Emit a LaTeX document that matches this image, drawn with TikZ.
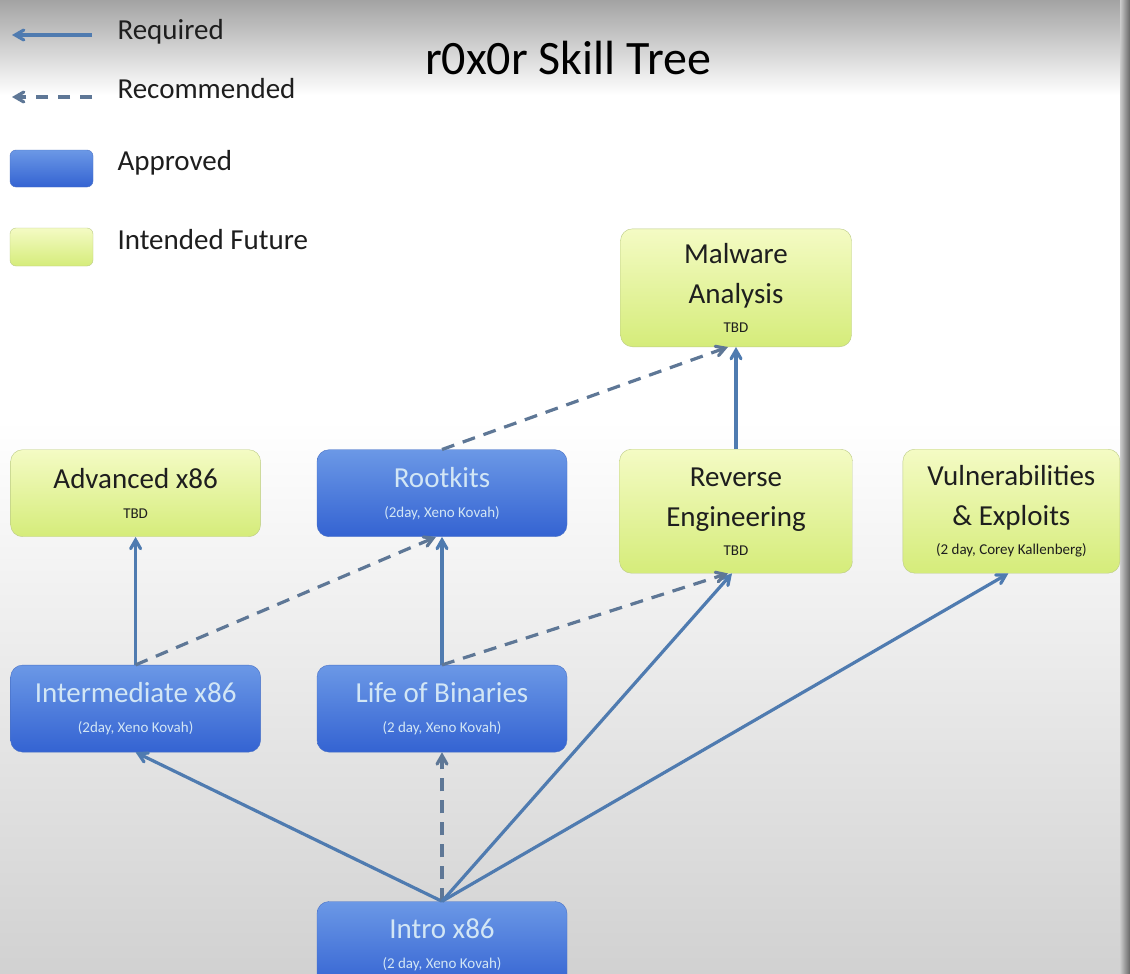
\documentclass[tikz,border=0pt]{standalone}
\usepackage{fontspec}
\setmainfont{Carlito}
\usetikzlibrary{arrows, positioning}

\definecolor{arrowblue}{HTML}{4F7BB0}
\definecolor{dashgray}{HTML}{5E7796}
\definecolor{apptop}{HTML}{6B98E6}
\definecolor{appbot}{HTML}{3463D2}
\definecolor{appedge}{HTML}{4A72C6}
\definecolor{apptext}{HTML}{D2E6F5}
\definecolor{futtop}{HTML}{F4FBC4}
\definecolor{futbot}{HTML}{D5EC7A}
\definecolor{futedge}{HTML}{BCCB86}
\definecolor{futtext}{HTML}{1E1E1E}

\newcommand{\crsnote}[1]{{\fontsize{15}{17}\selectfont #1}}

\begin{document}
\begin{tikzpicture}[x=1pt, y=-1pt, >=angle 60,
  course/.style={rectangle, rounded corners=12pt, inner sep=0pt, align=center,
    minimum width=250pt, minimum height=87pt, font=\fontsize{29}{40}\selectfont},
  approved/.style={course, draw=appedge, top color=apptop, bottom color=appbot, text=apptext},
  future/.style={course, draw=futedge, top color=futtop, bottom color=futbot, text=futtext},
  tall/.style={minimum height=124pt},
  req/.style={->, draw=arrowblue, line width=3.2pt},
  rec/.style={->, draw=dashgray, line width=3.2pt, dash pattern=on 13pt off 9pt},
  legend/.style={anchor=west, text=futtext, font=\fontsize{29}{34}\selectfont}]

\useasboundingbox (0,0) rectangle (1130,974);

% background of the slide
\fill[top color=black!36, bottom color=white] (0,0) rectangle (1130,95);
\fill[white] (0,95) rectangle (1130,420);
\fill[top color=white, bottom color=black!18] (0,420) rectangle (1130,974);
\fill[left color=black!20, right color=black!60] (1120,0) rectangle (1130,974);

% title
\node[font=\fontsize{48}{54}\selectfont, text=black] (title) at (568,58) {r0x0r Skill Tree};

% legend
\coordinate (reqA) at (12,35);
\coordinate (reqB) at (92,35);
\coordinate (recA) at (12,97);
\coordinate (recB) at (92,97);
\draw[req] (reqB) -- (reqA);
\draw[rec, dash pattern=on 12pt off 10pt] (recB) -- (recA);
\node[legend] (reqtext) at (114,32) {Required};
\node[legend] (rectext) at (114,89) {Recommended};
\node[approved, minimum width=83pt, minimum height=37pt, rounded corners=6pt] (swapp) at (51.5,168.5) {};
\node[future, minimum width=83pt, minimum height=38pt, rounded corners=6pt] (swfut) at (51.5,247) {};
\node[legend] (apptext) at (114,163) {Approved};
\node[legend] (futtext) at (114,240) {Intended Future};

% define the courses
\node[approved] (intro) at (442,945) {Intro x86\\[-10pt]\crsnote{(2 day, Xeno Kovah)}};
\node[approved, above=149pt of intro] (life) {Life of Binaries\\[-10pt]\crsnote{(2 day, Xeno Kovah)}};
\node[approved, left=56pt of life] (inter) {Intermediate x86\\[-10pt]\crsnote{(2day, Xeno Kovah)}};
\node[approved, above=128pt of life] (root) {Rootkits\\[-10pt]\crsnote{(2day, Xeno Kovah)}};
\node[future, above=128pt of inter] (adv) {Advanced x86\\[-10pt]\crsnote{TBD}};
\node[future, tall, minimum width=233pt, anchor=north] (rev) at (736,449)
  {Reverse\\Engineering\\[-11pt]\crsnote{TBD}};
\node[future, tall, minimum width=217pt, right=50pt of rev] (vuln)
  {Vulnerabilities\\\& Exploits\\[-11pt]\crsnote{(2 day, Corey Kallenberg)}};
\node[future, minimum width=231pt, minimum height=118pt, above=102pt of rev] (mal)
  {Malware\\Analysis\\[-11pt]\crsnote{TBD}};

% define the links
\draw[req] (intro.north) -- (inter.south);
\draw[rec] (intro.north) -- (life.south);
\draw[req] (intro.north) -- ([xshift=-4pt]rev.south);
\draw[req] (intro.north) -- ([xshift=-3pt]vuln.south);
\draw[req] (inter.north) -- (adv.south);
\draw[rec] (inter.north) -- ([xshift=-6pt]root.south);
\draw[req] (life.north) -- (root.south);
\draw[rec] (life.north) -- ([xshift=-8pt]rev.south);
\draw[req] (rev.north) -- (mal.south);
\draw[rec] (root.north) -- ([xshift=-8pt]mal.south);

\end{tikzpicture}
\end{document}
